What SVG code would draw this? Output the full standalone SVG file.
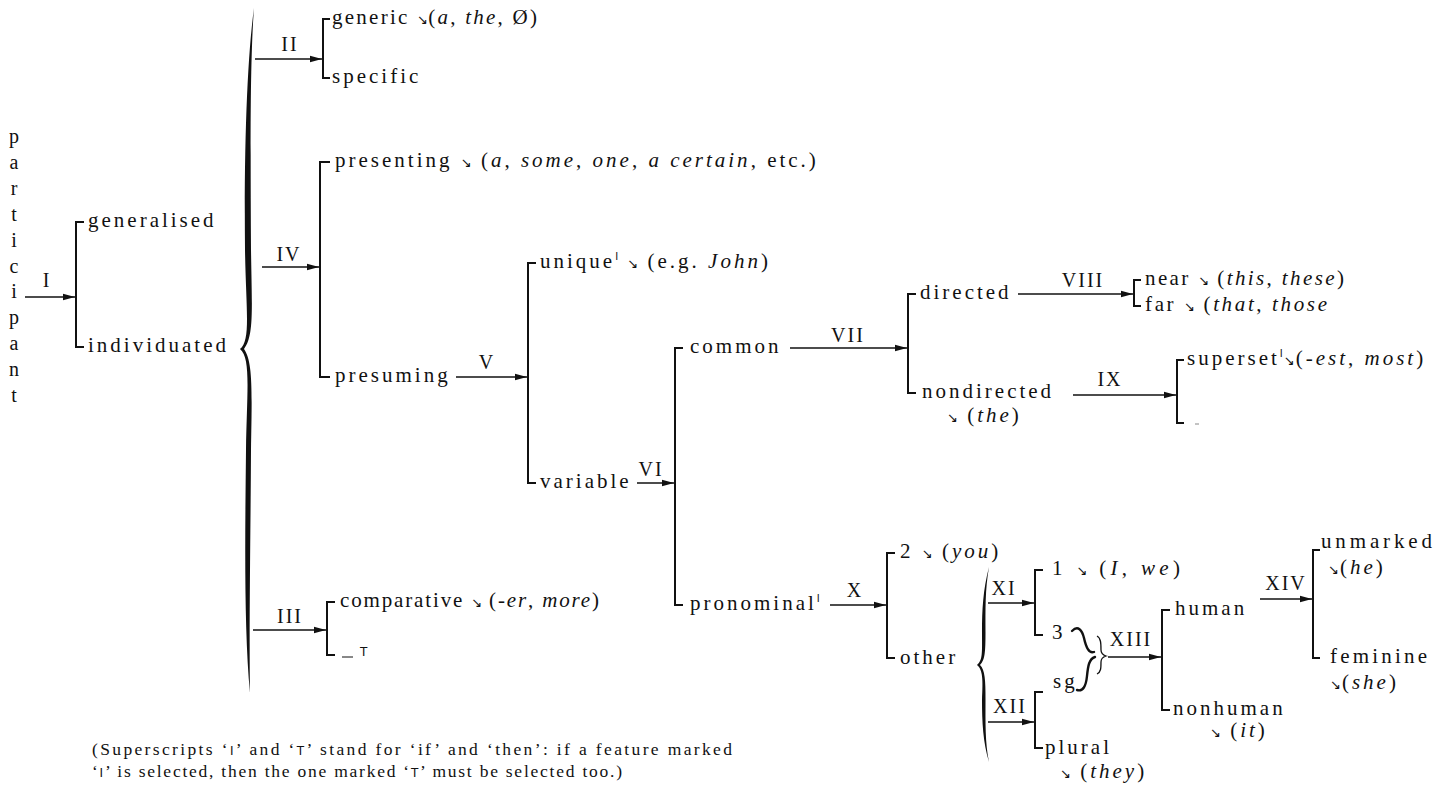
<svg xmlns="http://www.w3.org/2000/svg" width="1448" height="787" viewBox="0 0 1448 787">
  <style>
    .t { font-family: "Liberation Serif", "Times New Roman", serif; font-size: 21px; letter-spacing: 3px; fill: #111; }
    .it { font-style: italic; }
    .ar { font-family: "DejaVu Sans", sans-serif; font-size: 13px; letter-spacing: 1px; }
    .sup { font-family: "DejaVu Sans", sans-serif; font-size: 10px; letter-spacing: 1px; }
    .lbl { font-family: "Liberation Serif", "Times New Roman", serif; font-size: 20px; letter-spacing: 2px; fill: #111; text-anchor: middle; }
    .pl { font-family: "Liberation Serif", "Times New Roman", serif; font-size: 20px; fill: #111; text-anchor: middle; }
    .fn { font-family: "Liberation Serif", "Times New Roman", serif; font-size: 17.5px; fill: #111; }
    .sans { font-family: "DejaVu Sans", sans-serif; font-size: 12px; fill: #111; }
    .br { stroke: #111; stroke-width: 2; fill: none; }
    .cn { stroke: #111; stroke-width: 1.5; fill: none; marker-end: url(#ah); }
    .curl { stroke: #111; stroke-width: 2.4; fill: none; stroke-linecap: round; }
    .thin { stroke: #111; stroke-width: 1.3; fill: none; }
  </style>
  <defs>
    <marker id="ah" viewBox="0 0 12 8" refX="12" refY="4" markerWidth="12" markerHeight="8" markerUnits="userSpaceOnUse" orient="auto">
      <path d="M0,0.8 L12,4 L0,7.2 Z" fill="#111"/>
    </marker>
  </defs>
  <rect width="1448" height="787" fill="#fff"/>

  <!-- entry condition, set vertically -->
  <g id="participant" class="pl">
    <text x="14" y="143">p</text>
    <text x="14" y="169">a</text>
    <text x="14" y="195">r</text>
    <text x="14" y="221">t</text>
    <text x="14" y="247">i</text>
    <text x="14" y="273">c</text>
    <text x="14" y="298">i</text>
    <text x="14" y="324">p</text>
    <text x="14" y="350">a</text>
    <text x="14" y="376">n</text>
    <text x="14" y="402">t</text>
  </g>

  <!-- system I -->
  <g id="sys-I">
    <path class="br" d="M84,222 H76 V347 H84"/>
    <text class="t" x="88" y="227">generalised</text>
    <text class="t" x="88" y="352">individuated</text>
  </g>

  <!-- simultaneous systems entered from 'individuated' -->
  <g id="brace-individuated">
    <path fill="#111" d="M254,8 C247,60 244,150 245,250 C246,310 251,340 240,349 C251,358 247,390 246,450 C245,540 244,630 250,693 C249,630 250.5,540 251,450 C252,390 253,362 244,349 C254,336 252,310 251,250 C250.5,150 250,60 254,8 Z"/>
  </g>

  <!-- system II -->
  <g id="sys-II">
    <path class="br" d="M330,19 H323 V78 H330"/>
    <text class="t" x="332" y="24" textLength="208" lengthAdjust="spacing">generic <tspan class="ar">↘</tspan>(<tspan class="it">a</tspan>, <tspan class="it">the</tspan>, Ø)</text>
    <text class="t" x="332" y="83">specific</text>
  </g>

  <!-- system IV -->
  <g id="sys-IV">
    <path class="br" d="M330,162 H320 V377 H330"/>
    <text class="t" x="335" y="167">presenting <tspan class="ar">↘</tspan> (<tspan class="it">a</tspan>, <tspan class="it">some</tspan>, <tspan class="it">one</tspan>, <tspan class="it">a certain</tspan>, etc.)</text>
    <text class="t" x="335" y="382">presuming</text>
  </g>

  <!-- system III -->
  <g id="sys-III">
    <path class="br" d="M335,602 H327 V655 H335"/>
    <text class="t" x="340" y="607" textLength="262" lengthAdjust="spacing">comparative <tspan class="ar">↘</tspan> (<tspan class="it">-er</tspan>, <tspan class="it">more</tspan>)</text>
    <path d="M342,657 H353" stroke="#111" stroke-width="1"/>
    <text class="sans" x="360" y="656">T</text>
  </g>

  <!-- system V -->
  <g id="sys-V">
    <path class="br" d="M536,263 H528 V483 H536"/>
    <text class="t" x="540" y="268">unique<tspan class="sup" dy="-8">I</tspan><tspan dy="8"> </tspan><tspan class="ar">↘</tspan> (e.g. <tspan class="it">John</tspan>)</text>
    <text class="t" x="540" y="488">variable</text>
  </g>

  <!-- system VI -->
  <g id="sys-VI">
    <path class="br" d="M683,348 H675 V605 H683"/>
    <text class="t" x="690" y="353">common</text>
    <text class="t" x="690" y="610">pronominal<tspan class="sup" dy="-8">I</tspan></text>
  </g>

  <!-- system VII -->
  <g id="sys-VII">
    <path class="br" d="M916,294 H908 V393 H916"/>
    <text class="t" x="920" y="299">directed</text>
    <text class="t" x="922" y="398">nondirected</text>
    <text class="t" x="947" y="422"><tspan class="ar">↘</tspan> (<tspan class="it">the</tspan>)</text>
  </g>

  <!-- system VIII -->
  <g id="sys-VIII">
    <path class="br" d="M1141,280 H1134 V306 H1141"/>
    <text class="t" x="1145" y="285" textLength="202" lengthAdjust="spacing">near <tspan class="ar">↘</tspan> (<tspan class="it">this</tspan>, <tspan class="it">these</tspan>)</text>
    <text class="t" x="1145" y="311" textLength="185" lengthAdjust="spacing">far <tspan class="ar">↘</tspan> (<tspan class="it">that</tspan>, <tspan class="it">those</tspan></text>
  </g>

  <!-- system IX -->
  <g id="sys-IX">
    <path class="br" d="M1184,360 H1177 V423 H1184"/>
    <text class="t" x="1187" y="365">superset<tspan class="sup" dy="-8">I</tspan><tspan class="ar" dy="8">↘</tspan>(<tspan class="it">-est</tspan>, <tspan class="it">most</tspan>)</text>
    <path d="M1195,424 H1199" stroke="#888" stroke-width="1"/>
  </g>

  <!-- system X -->
  <g id="sys-X">
    <path class="br" d="M895,553 H887 V658 H895"/>
    <text class="t" x="900" y="558">2 <tspan class="ar">↘</tspan> (<tspan class="it">you</tspan>)</text>
    <text class="t" x="900" y="664">other</text>
  </g>

  <!-- simultaneous systems entered from 'other' -->
  <g id="brace-other">
    <path fill="#111" d="M989,567 C983,590 982,610 982,632 C982,652 983,660 977,665 C983,670 983,680 982,700 C982,722 983,742 989,762 C985,742 985.5,722 985.5,700 C985.5,680 985,670 980,665 C985,660 985.5,652 985.5,632 C985.5,610 985,590 989,567 Z"/>
  </g>

  <!-- system XI -->
  <g id="sys-XI">
    <path class="br" d="M1043,570 H1035 V635 H1043"/>
    <text class="t" x="1052" y="575" textLength="131" lengthAdjust="spacing">1 <tspan class="ar">↘</tspan> (<tspan class="it">I</tspan>, <tspan class="it">we</tspan>)</text>
    <text class="t" x="1052" y="639">3</text>
  </g>

  <!-- system XII -->
  <g id="sys-XII">
    <path class="br" d="M1043,692 H1035 V748 H1043"/>
    <text class="t" x="1053" y="688">sg</text>
    <text class="t" x="1045" y="754">plural</text>
    <text class="t" x="1060" y="778"><tspan class="ar">↘</tspan> (<tspan class="it">they</tspan>)</text>
  </g>

  <!-- conjunction of '3' and 'sg' -->
  <g id="join-3-sg">
    <path class="curl" d="M1072,631 C1078,625 1082,630 1084,638 C1086,647 1089,654 1094,652"/>
    <path class="curl" d="M1077,690 C1083,692 1086,686 1087,676 C1088,666 1089,659 1095,657"/>
    <path class="thin" d="M1097,636 C1101,638 1101,644 1101,650 C1101,653 1103,655 1106,656 C1103,657 1101,659 1101,662 C1101,668 1101,672 1097,674"/>
  </g>

  <!-- system XIII -->
  <g id="sys-XIII">
    <path class="br" d="M1170,610 H1162 V710 H1170"/>
    <text class="t" x="1175" y="615">human</text>
    <text class="t" x="1173" y="715">nonhuman</text>
    <text class="t" x="1210" y="737"><tspan class="ar">↘</tspan> (<tspan class="it">it</tspan>)</text>
  </g>

  <!-- system XIV -->
  <g id="sys-XIV">
    <path class="br" d="M1320,550 H1313 V658 H1320"/>
    <text class="t" x="1321" y="548" textLength="114" lengthAdjust="spacing">unmarked</text>
    <text class="t" x="1328" y="574"><tspan class="ar">↘</tspan>(<tspan class="it">he</tspan>)</text>
    <text class="t" x="1330" y="663" textLength="100" lengthAdjust="spacing">feminine</text>
    <text class="t" x="1330" y="689"><tspan class="ar">↘</tspan>(<tspan class="it">she</tspan>)</text>
  </g>

  <!-- system arrows and their numerals -->
  <g id="connectors">
    <path class="cn" d="M25,297 H75"/>
    <text class="lbl" x="47" y="287">I</text>
    <path class="cn" d="M255,59 H322"/>
    <text class="lbl" x="290" y="51">II</text>
    <path class="cn" d="M262,267 H319"/>
    <text class="lbl" x="289" y="261">IV</text>
    <path class="cn" d="M253,630 H326"/>
    <text class="lbl" x="290" y="623">III</text>
    <path class="cn" d="M456,377 H527"/>
    <text class="lbl" x="487" y="369">V</text>
    <path class="cn" d="M637,483 H674"/>
    <text class="lbl" x="651" y="476">VI</text>
    <path class="cn" d="M790,348 H907"/>
    <text class="lbl" x="848" y="342">VII</text>
    <path class="cn" d="M1018,294 H1133"/>
    <text class="lbl" x="1083" y="287">VIII</text>
    <path class="cn" d="M1073,395 H1176"/>
    <text class="lbl" x="1110" y="386">IX</text>
    <path class="cn" d="M830,605 H886"/>
    <text class="lbl" x="855" y="597">X</text>
    <path class="cn" d="M988,603 H1034"/>
    <text class="lbl" x="1004" y="595">XI</text>
    <path class="cn" d="M988,722 H1034"/>
    <text class="lbl" x="1010" y="713">XII</text>
    <path class="cn" d="M1108,657 H1161"/>
    <text class="lbl" x="1131" y="646">XIII</text>
    <path class="cn" d="M1260,599 H1312"/>
    <text class="lbl" x="1286" y="590">XIV</text>
  </g>

  <!-- footnote -->
  <g id="footnote">
    <text class="fn" x="92" y="755" textLength="640" lengthAdjust="spacing">(Superscripts ‘<tspan class="sans">I</tspan>’ and ‘<tspan class="sans">T</tspan>’ stand for ‘if’ and ‘then’:  if a feature marked</text>
    <text class="fn" x="92" y="777" textLength="530" lengthAdjust="spacing">‘<tspan class="sans">I</tspan>’ is selected, then the one marked ‘<tspan class="sans">T</tspan>’ must be selected too.)</text>
  </g>
</svg>
